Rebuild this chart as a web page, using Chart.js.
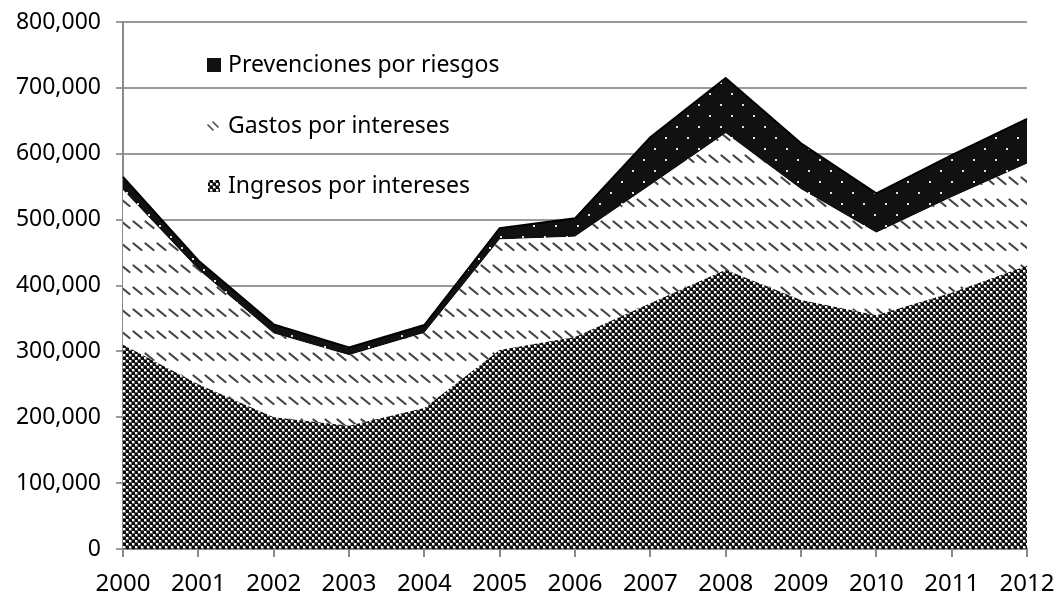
<!DOCTYPE html>
<html>
<head>
  <meta charset="UTF-8">
  <title>Ingresos, gastos y prevenciones</title>
  <script src="https://cdn.jsdelivr.net/npm/chart.js"></script>
  <style>
    body { margin: 0; background: #fff; }
    canvas { display: block; }
  </style>
</head>
<body>
  <canvas id="areaChart" width="1057" height="596"></canvas>

  <script>
    // values (stacked, in units)
    const years = ['2000', '2001', '2002', '2003', '2004', '2005', '2006', '2007', '2008', '2009', '2010', '2011', '2012'];
    const ingresos = [310000, 250000, 200000, 187000, 214000, 302000, 322000, 373000, 424000, 378000, 355000, 389000, 430000];
    const gastos = [235000, 174000, 127000, 107000, 114000, 168000, 152000, 179000, 207000, 168000, 125000, 145000, 155000];
    const prevenciones = [20000, 14000, 14000, 12000, 12000, 17000, 28000, 73000, 84000, 70000, 60000, 64000, 68000];
    const seriesNames = ['Prevenciones por riesgos', 'Gastos por intereses', 'Ingresos por intereses'];

    const FONT = '"Noto Sans", sans-serif';

    function makeTile(w, h, draw) {
      const c = document.createElement('canvas');
      c.width = w; c.height = h;
      draw(c.getContext('2d'));
      return c;
    }

    // small checker for Ingresos
    const checkTile = makeTile(6, 6, g => {
      g.fillStyle = '#666'; g.fillRect(0, 0, 6, 6);
      g.fillStyle = '#0c0c0c'; g.fillRect(0, 0, 3, 3); g.fillRect(3, 3, 3, 3);
      g.fillStyle = '#fff'; g.fillRect(3, 0, 2, 2); g.fillRect(0, 3, 2, 2);
    });
    // rows of short diagonal dashes for Gastos
    const stripeTile = makeTile(12, 22, g => {
      g.fillStyle = '#fff'; g.fillRect(0, 0, 12, 22);
      g.strokeStyle = '#444'; g.lineWidth = 2.2; g.lineCap = 'round';
      g.beginPath(); g.moveTo(1.5, 1.5); g.lineTo(9.5, 8); g.stroke();
    });
    // black with sparse white dots for Prevenciones
    const dotTile = makeTile(22, 22, g => {
      g.fillStyle = '#111'; g.fillRect(0, 0, 22, 22);
      g.fillStyle = '#e0e0e0'; g.fillRect(5, 5, 2, 2); g.fillRect(16, 16, 2, 2);
    });

    const ctx = document.getElementById('areaChart').getContext('2d');
    const checkPat = ctx.createPattern(checkTile, 'repeat');
    const stripePat = ctx.createPattern(stripeTile, 'repeat');
    const dotPat = ctx.createPattern(dotTile, 'repeat');

    // legend drawn inside the plot, top left
    const insideLegend = {
      id: 'insideLegend',
      afterDraw(chart) {
        const g = chart.ctx;
        g.save();
        g.font = '23px ' + FONT;
        g.textBaseline = 'middle';
        const rows = [65, 126, 186];
        // markers
        g.fillStyle = '#111';
        g.fillRect(207, 58, 14, 14);
        g.strokeStyle = '#4a4a4a'; g.lineWidth = 1.6; g.lineCap = 'round';
        [[208, 125], [213, 122]].forEach(([x, y]) => {
          g.beginPath(); g.moveTo(x, y); g.lineTo(x + 5, y + 5); g.stroke();
        });
        g.fillStyle = checkPat;
        g.fillRect(208, 180, 12, 12);
        g.fillStyle = '#000';
        seriesNames.forEach((name, i) => g.fillText(name, 228, rows[i]));
        g.restore();
      }
    };

    new Chart(ctx, {
      type: 'line',
      data: {
        labels: years,
        datasets: [
          { label: seriesNames[2], data: ingresos, backgroundColor: checkPat, borderWidth: 0, fill: 'origin', pointRadius: 0 },
          { label: seriesNames[1], data: gastos, backgroundColor: stripePat, borderWidth: 0, fill: '-1', pointRadius: 0 },
          { label: seriesNames[0], data: prevenciones, backgroundColor: dotPat, borderColor: '#000', borderWidth: 2, fill: '-1', pointRadius: 0 }
        ]
      },
      options: {
        responsive: false,
        animation: false,
        layout: { padding: { top: 22, right: 30, left: 0, bottom: 0 } },
        plugins: { legend: { display: false }, tooltip: { enabled: false } },
        scales: {
          x: {
            offset: false,
            grid: { drawOnChartArea: false, drawTicks: true, tickLength: 8, color: '#8a8a8a', lineWidth: 2 },
            border: { color: '#8a8a8a', width: 2 },
            ticks: { color: '#000', font: { family: FONT, size: 24 }, padding: 13, maxRotation: 0, autoSkip: false },
            afterFit(scale) { scale.height = 47; scale.paddingLeft = 0; scale.paddingRight = 0; }
          },
          y: {
            stacked: true,
            min: 0,
            max: 800000,
            grid: { color: '#9a9a9a', lineWidth: 2, tickLength: 7 },
            border: { color: '#8a8a8a', width: 2 },
            ticks: {
              stepSize: 100000,
              color: '#000',
              font: { family: FONT, size: 23 },
              padding: 15,
              callback: v => v.toLocaleString('en-US')
            },
            afterFit(scale) { scale.width = 123; scale.paddingTop = 0; scale.paddingBottom = 0; }
          }
        }
      },
      plugins: [insideLegend]
    });
  </script>
</body>
</html>
